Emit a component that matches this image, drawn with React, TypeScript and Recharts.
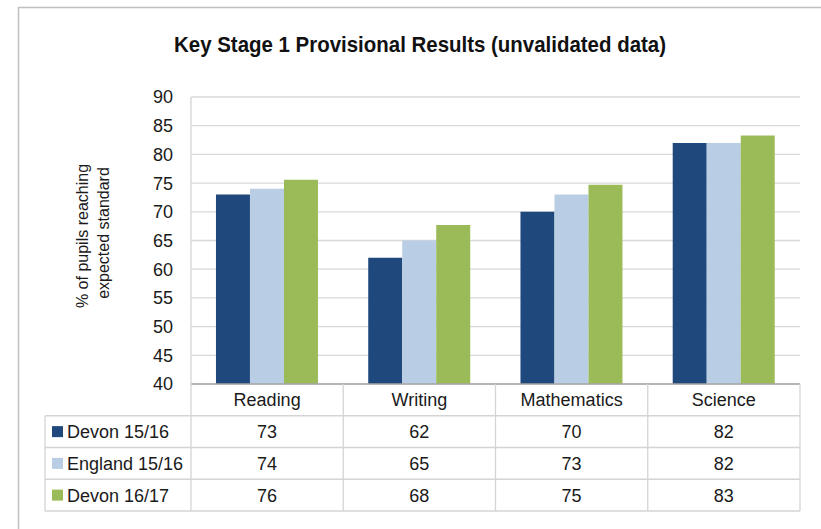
import React from 'react';
import { BarChart, Bar, XAxis, YAxis, CartesianGrid } from 'recharts';

const categories = ['Reading', 'Writing', 'Mathematics', 'Science'];
const devon1516 = [73.0, 62.0, 70.0, 82.0];
const england1516 = [74.0, 65.0, 73.0, 82.0];
const devon1617 = [75.6, 67.7, 74.7, 83.3];
const seriesNames = ['Devon 15/16', 'England 15/16', 'Devon 16/17'];
const seriesKeys = ['devon1516', 'england1516', 'devon1617'];
const seriesValues = [devon1516, england1516, devon1617];
const seriesColors = ['#1F497D', '#B9CDE5', '#9BBB59'];
const yTicks = [40, 45, 50, 55, 60, 65, 70, 75, 80, 85, 90];
const title = 'Key Stage 1 Provisional Results (unvalidated data)';
const yLabelLines = ['% of pupils reaching', 'expected standard'];

const data = categories.map((c, i) => ({
  category: c,
  devon1516: devon1516[i],
  england1516: england1516[i],
  devon1617: devon1617[i],
}));

const W = 821;
const H = 529;
const PLOT_LEFT = 191;
const PLOT_RIGHT = 800;
const PLOT_TOP = 97;
const PLOT_BOTTOM = 384;
const PLOT_W = PLOT_RIGHT - PLOT_LEFT;
const ROW_H = 31.75;
const TABLE_LEFT = 45;
const FONT = "'Liberation Sans', Arial, sans-serif";
const TEXT = '#1a1a1a';
const LINE = '#D4D4D4';

const XTick = (props: any) => {
  const { x, index, payload } = props;
  const colW = PLOT_W / categories.length;
  const top = PLOT_BOTTOM;
  const bottom = top + ROW_H * 4;
  return (
    <g>
      {index === 0 && (
        <g>
          {[1, 2, 3, 4].map((r) => (
            <line key={r} x1={TABLE_LEFT} x2={PLOT_RIGHT} y1={top + ROW_H * r} y2={top + ROW_H * r} stroke={LINE} strokeWidth={1.3} />
          ))}
          <line x1={TABLE_LEFT} x2={TABLE_LEFT} y1={top + ROW_H} y2={bottom} stroke={LINE} strokeWidth={1.3} />
          <line x1={x - colW / 2} x2={x - colW / 2} y1={top} y2={bottom} stroke={LINE} strokeWidth={1.3} />
          {seriesNames.map((n, i) => {
            const cy = top + ROW_H * (i + 1.5);
            return (
              <g key={n}>
                <rect x={52} y={cy - 5.5} width={11} height={11} fill={seriesColors[i]} />
                <text x={67} y={cy} dy="0.36em" fontFamily={FONT} fontSize={18} fill={TEXT}>{n}</text>
              </g>
            );
          })}
        </g>
      )}
      <line x1={x + colW / 2} x2={x + colW / 2} y1={top} y2={bottom} stroke={LINE} strokeWidth={1.3} />
      <text x={x} y={top + ROW_H / 2} dy="0.36em" textAnchor="middle" fontFamily={FONT} fontSize={18} fill={TEXT}>
        {payload.value}
      </text>
      {seriesValues.map((vals, i) => (
        <text key={i} x={x} y={top + ROW_H * (i + 1.5)} dy="0.36em" textAnchor="middle" fontFamily={FONT} fontSize={18} fill={TEXT}>
          {Math.round(vals[index])}
        </text>
      ))}
    </g>
  );
};

const YTick = (props: any) => {
  const { y, payload } = props;
  return (
    <text x={PLOT_LEFT - 18} y={y} dy="0.36em" textAnchor="end" fontFamily={FONT} fontSize={18} fill={TEXT}>
      {payload.value}
    </text>
  );
};

const YLabel = () => (
  <g>
    <text transform="translate(88, 236) rotate(-90)" textAnchor="middle" fontFamily={FONT} fontSize={16} fill={TEXT}>
      {yLabelLines[0]}
    </text>
    <text transform="translate(109, 233) rotate(-90)" textAnchor="middle" fontFamily={FONT} fontSize={16} fill={TEXT}>
      {yLabelLines[1]}
    </text>
  </g>
);

export default function App() {
  return (
    <div style={{ position: 'absolute', left: 0, top: 0, width: W, height: H, overflow: 'hidden', background: '#fff' }}>
      <svg width={W} height={H} style={{ position: 'absolute', left: 0, top: 0 }}>
        <path d={`M18.5,${H} V7.5 H${W}`} fill="none" stroke="#BFBFBF" strokeWidth={1.5} />
        <text
          x={420}
          y={52}
          textAnchor="middle"
          fontFamily="'Liberation Sans Narrow', 'Liberation Sans', Arial, sans-serif"
          fontWeight="bold"
          fontSize={22}
          fill="#111"
          textLength={492}
          lengthAdjust="spacingAndGlyphs"
        >
          {title}
        </text>
      </svg>
      <div style={{ position: 'absolute', left: 0, top: 0 }}>
        <BarChart
          width={W}
          height={H}
          data={data}
          margin={{ top: PLOT_TOP, right: W - PLOT_RIGHT, bottom: 15, left: PLOT_LEFT - 60 }}
          barCategoryGap="16.4%"
          barGap={0}
        >
          <CartesianGrid vertical={false} stroke="#D9D9D9" strokeWidth={1.3} />
          <XAxis
            dataKey="category"
            height={H - 15 - PLOT_BOTTOM}
            axisLine={{ stroke: '#A6A6A6', strokeWidth: 1.5 }}
            tickLine={false}
            tick={<XTick />}
            interval={0}
          />
          <YAxis
            width={60}
            domain={[40, 90]}
            ticks={yTicks}
            allowDataOverflow
            axisLine={{ stroke: '#D4D4D4', strokeWidth: 1.3 }}
            tickLine={false}
            tick={<YTick />}
            interval={0}
            label={<YLabel />}
          />
          {seriesKeys.map((k, i) => (
            <Bar key={k} dataKey={k} name={seriesNames[i]} fill={seriesColors[i]} isAnimationActive={false} />
          ))}
        </BarChart>
      </div>
    </div>
  );
}
